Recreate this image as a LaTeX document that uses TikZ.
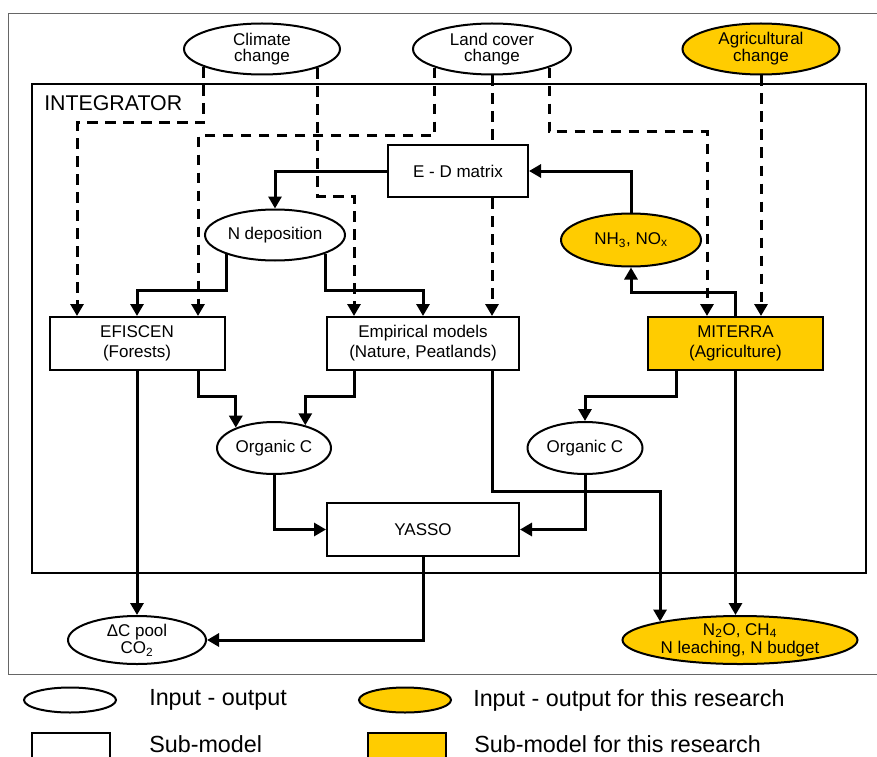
\documentclass[tikz,border=0pt]{standalone}
\usepackage{fontspec}
\setmainfont{Liberation Sans}
\usepackage{tikz}
\usetikzlibrary{arrows.meta,positioning,shapes.geometric,calc}
\usepackage{xcolor}
\definecolor{ouro}{HTML}{FFCC00}

\begin{document}
\begin{tikzpicture}[
        x=0.75pt, y=-0.75pt,
        box/.style={draw, rectangle, line width=1.5pt, inner sep=0pt, align=center, font=\fontsize{12.75}{15}\selectfont},
        elipse/.style={draw, ellipse, line width=1.5pt, inner sep=0pt, align=center, font=\fontsize{12.75}{11.75}\selectfont},
        arrow/.style={-{Triangle[length=9pt, width=9.75pt]}, line width=2.25pt},
        tracejado/.style={arrow, dash pattern=on 8pt off 5.5pt},
        legenda/.style={inner sep=0pt, font=\fontsize{17.5}{20}\selectfont}
    ]
        \useasboundingbox (0,0) rectangle (877,756);
        \draw[black!60, line width=0.75pt] (880,14) -- (8,14) -- (8,674) -- (880,674);
        \draw[line width=1.5pt] (32,84) rectangle (866,573);
        \node[anchor=base west, inner sep=0pt, font=\fontsize{16}{16}\selectfont] (integ) at (44,111) {INTEGRATOR};

        \node[elipse, minimum width=117pt, minimum height=38.25pt] (clima) at (262,49) {Climate\\change};
        \node[elipse, minimum width=118.5pt, minimum height=38.25pt] (uso) at (492,49) {Land cover\\change};
        \node[elipse, fill=ouro, minimum width=117.75pt, minimum height=38.25pt] (agri) at (761,49) {Agricultural\\change};
        \node[box, minimum width=105pt, minimum height=39pt] (ed) at (458,171) {E - D matrix};
        \node[elipse, minimum width=105pt, minimum height=38.25pt] (ndep) at (275,235) {N deposition};
        \node[elipse, fill=ouro, minimum width=105pt, minimum height=39.75pt] (nh3) at (631,240) {NH\textsubscript{3}, NO\textsubscript{x}};
        \node[box, minimum width=131.25pt, minimum height=39.75pt] (efiscen) at (137,343.5) {EFISCEN\\(Forests)};
        \node[box, minimum width=144pt, minimum height=39.75pt] (empir) at (423,343.5) {Empirical models\\(Nature, Peatlands)};
        \node[box, fill=ouro, minimum width=131.25pt, minimum height=39.75pt] (miterra) at (735.5,343.5) {MITERRA\\(Agriculture)};
        \node[elipse, minimum width=85.5pt, minimum height=39pt] (orgL) at (274,448) {Organic C};
        \node[elipse, minimum width=86.25pt, minimum height=39pt] (orgR) at (585,448) {Organic C};
        \node[box, minimum width=144pt, minimum height=39.75pt] (yasso) at (423,529.5) {YASSO};
        \node[elipse, minimum width=103.5pt, minimum height=36pt, font=\fontsize{12.75}{13}\selectfont] (dcpool) at (137,640) {ΔC pool\\CO\textsubscript{2}};
        \node[elipse, fill=ouro, minimum width=176.25pt, minimum height=36pt, font=\fontsize{12.75}{13.5}\selectfont] (n2o) at (740,640) {N\textsubscript{2}O, CH\textsubscript{4}\\N leaching, N budget};

        \draw[tracejado] (clima.197) |- (77,123) -- (77,0 |- efiscen.north);
        \draw[tracejado] (clima.341) |- (354,196) -- (354,0 |- empir.north);
        \draw[tracejado] (uso.198) |- (198,136) -- (198,0 |- efiscen.north);
        \draw[tracejado, -] (uso.south) -- (uso.south |- ed.north);
        \draw[tracejado] (uso.south |- ed.south) -- (uso.south |- empir.north);
        \draw[tracejado] (uso.342) |- (707,132) -- (707,0 |- miterra.north);
        \draw[tracejado] (agri.south) -- (agri.south |- miterra.north);

        \draw[arrow] (ed.west) -| (ndep.north);
        \draw[arrow] (ndep.202) |- (137,290) -- (efiscen.north);
        \draw[arrow] (ndep.340) |- (423,290) -- (empir.north);
        \draw[arrow] (nh3.north) |- (ed.east);
        \draw[arrow] (miterra.north) |- (631,292) -- (nh3.south);
        \draw[arrow] (efiscen.south) -- (dcpool.north);
        \draw[arrow] (198,0 |- efiscen.south) -- (198,396) -| (orgL.152);
        \draw[arrow] (354,0 |- empir.south) -- (354,396) -| (orgL.36);
        \draw[arrow] (492,0 |- empir.south) -- (492,491) -| (n2o.167);
        \draw[arrow] (miterra.south) -- (miterra.south |- n2o.north);
        \draw[arrow] (676,0 |- miterra.south) -- (676,396) -| (orgR.north);
        \draw[arrow] (orgL.south) |- (yasso.west);
        \draw[arrow] (orgR.south) |- (yasso.east);
        \draw[arrow] (yasso.south) |- (dcpool.east);

        \node[elipse, minimum width=69pt, minimum height=18.75pt] (legio) at (70,700) {};
        \node[elipse, fill=ouro, minimum width=69pt, minimum height=18.75pt] (legioouro) at (405,700) {};
        \node[box, minimum width=58.5pt, minimum height=21pt] (legsub) at (71,747) {};
        \node[box, fill=ouro, minimum width=58.5pt, minimum height=21pt] (legsubouro) at (407,747) {};
        \node[legenda, right=24pt of legio] (txtio) {Input - output};
        \node[legenda, right=15.75pt of legioouro] (txtioouro) {Input - output for this research};
        \node[legenda, right=28.5pt of legsub, yshift=2.25pt] (txtsub) {Sub-model};
        \node[legenda, right=20.25pt of legsubouro, yshift=2.25pt] (txtsubouro) {Sub-model for this research};
    \end{tikzpicture}
\end{document}
